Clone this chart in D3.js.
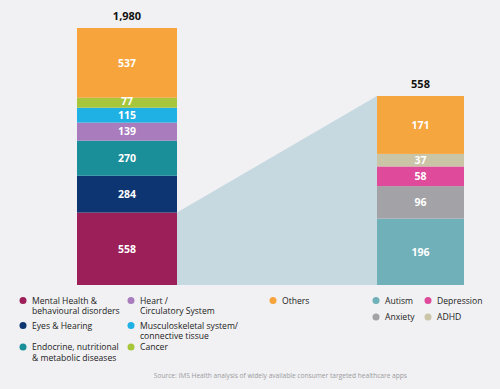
<!DOCTYPE html>
<html>
<head>
<meta charset="utf-8">
<script src="https://cdn.jsdelivr.net/npm/d3@7"></script>
<style>
  body { margin: 0; background: #f1f1f3; }
  svg { display: block; font-family: "Open Sans", "Noto Sans", sans-serif; }
</style>
</head>
<body>
<div id="chart"></div>
<script>
// All healthcare apps by therapy area
const areaNames = ["Mental Health & behavioural disorders", "Eyes & Hearing",
  "Endocrine, nutritional & metabolic diseases", "Heart / Circulatory System",
  "Musculoskeletal system/ connective tissue", "Cancer", "Others"];
const areaValues = [558, 284, 270, 139, 115, 77, 537];
const areaColors = ["#9c1f59", "#0d3571", "#1a8e99", "#a87cbd", "#1fb0e4", "#a8c63c", "#f7a43d"];

// Mental health apps breakdown
const mentalNames = ["Autism", "Anxiety", "Depression", "ADHD", "Others"];
const mentalValues = [196, 96, 58, 37, 171];
const mentalColors = ["#6fb0b9", "#a3a3a7", "#df4a9b", "#c9c5a6", "#f5a63f"];

const width = 500, height = 389;
const base = 285;

const svg = d3.select("#chart").append("svg")
  .attr("width", width).attr("height", height);

// scales: each bar has its own vertical scale (right one zooms into 558)
const yLeft = d3.scaleLinear().domain([0, d3.sum(areaValues)]).range([base, 28]);
const yRight = d3.scaleLinear().domain([0, d3.sum(mentalValues)]).range([base, 96]);

const leftX = 77, leftW = 100;
const rightX = 377, rightW = 87;

function stackUp(vals) {
  let acc = 0;
  return vals.map(v => { const s = acc; acc += v; return { v, y0: s, y1: acc }; });
}
const leftStack = stackUp(areaValues);
const rightStack = stackUp(mentalValues);

// wedge from mental health segment to the breakdown bar
const mh = leftStack[0];
svg.append("path")
  .attr("d", d3.line()([
    [leftX + leftW, yLeft(mh.y1)],
    [leftX + leftW, yLeft(mh.y0)],
    [rightX, yRight(0)],
    [rightX, yRight(d3.sum(mentalValues))]
  ]) + "Z")
  .attr("fill", "#c6d8e0");

function drawBar(stack, colors, y, x0, w) {
  const g = svg.append("g");
  g.selectAll("rect").data(stack).enter().append("rect")
    .attr("x", x0).attr("width", w)
    .attr("y", d => y(d.y1))
    .attr("height", d => y(d.y0) - y(d.y1))
    .attr("fill", (d, i) => colors[i]);
  g.selectAll("text").data(stack).enter().append("text")
    .attr("x", x0 + w / 2)
    // thin segments: label sits a bit high, like the original
    .attr("y", d => (y(d.y0) + y(d.y1)) / 2 - (y(d.y0) - y(d.y1) < 12 ? 1.5 : 0))
    .attr("dy", "0.36em")
    .attr("text-anchor", "middle")
    .attr("fill", "#fff")
    .attr("font-weight", "bold")
    .attr("font-size", "10.5px")
    .text(d => d.v);
  svg.append("text")
    .attr("x", x0 + w / 2)
    .attr("y", y(stack[stack.length - 1].y1) - 8)
    .attr("text-anchor", "middle")
    .attr("font-weight", "bold")
    .attr("font-size", "11px")
    .attr("fill", "#111")
    .text(d3.format(",")(d3.sum(stack, d => d.v)));
}
drawBar(leftStack, areaColors, yLeft, leftX, leftW);
drawBar(rightStack, mentalColors, yRight, rightX, rightW);

// legend
const legendItems = [
  { i: 0, x: 23, y: 300.5, lines: ["Mental Health &", "behavioural disorders"] },
  { i: 1, x: 23, y: 325.5, lines: ["Eyes & Hearing"] },
  { i: 2, x: 23, y: 347, lines: ["Endocrine, nutritional", "& metabolic diseases"] },
  { i: 3, x: 131, y: 300.5, lines: ["Heart /", "Circulatory System"] },
  { i: 4, x: 131, y: 325.5, lines: ["Musculoskeletal system/", "connective tissue"] },
  { i: 5, x: 131, y: 347, lines: ["Cancer"] },
  { i: 6, x: 273, y: 300.5, lines: ["Others"] }
].map(d => ({ ...d, color: areaColors[d.i] }));
const mentalLegend = [
  { i: 0, x: 376, y: 300.5 },
  { i: 2, x: 428, y: 300.5 },
  { i: 1, x: 376, y: 317 },
  { i: 3, x: 428, y: 317 }
].map(d => ({ ...d, color: mentalColors[d.i], lines: [mentalNames[d.i]] }));

const lg = svg.append("g");
legendItems.concat(mentalLegend).forEach(d => {
  lg.append("circle").attr("cx", d.x).attr("cy", d.y).attr("r", 3.5).attr("fill", d.color);
  const t = lg.append("text").attr("x", d.x + 9).attr("y", d.y).attr("font-size", "8.6px").attr("fill", "#222");
  d.lines.forEach((l, k) => {
    t.append("tspan").attr("x", d.x + 9).attr("y", d.y + k * 10.5).attr("dy", "0.35em").text(l);
  });
});

svg.append("text")
  .attr("x", 407).attr("y", 378)
  .attr("text-anchor", "end")
  .attr("font-size", "6.6px")
  .attr("fill", "#9a9a9e")
  .text("Source: IMS Health analysis of widely available consumer targeted healthcare apps");
</script>
</body>
</html>
